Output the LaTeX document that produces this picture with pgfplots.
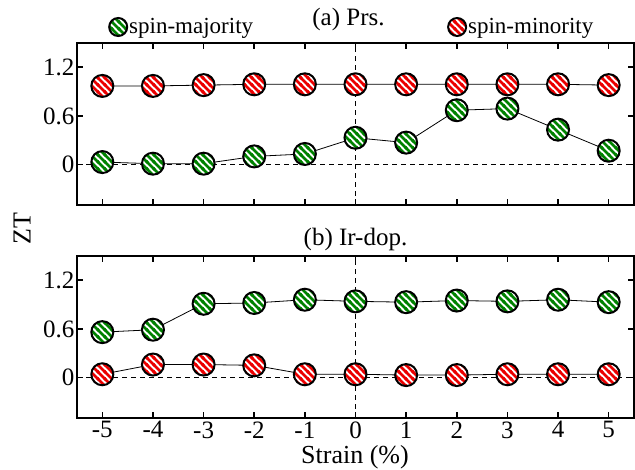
\documentclass[border=0pt]{standalone}
\usepackage{fontspec}
\setmainfont{Liberation Serif}
\usepackage{pgfplots}
\pgfplotsset{compat=1.18}
\usetikzlibrary{patterns}

\definecolor{sgreen}{RGB}{0,130,0}
\definecolor{sred}{RGB}{235,0,0}

\pgfdeclarepatternformonly{mystripes}{\pgfqpoint{-1pt}{-1pt}}{\pgfqpoint{8pt}{8pt}}{\pgfqpoint{7pt}{7pt}}{%
  \pgfsetlinewidth{2.6pt}%
  \pgfpathmoveto{\pgfqpoint{-1pt}{8pt}}\pgfpathlineto{\pgfqpoint{8pt}{-1pt}}%
  \pgfpathmoveto{\pgfqpoint{-1pt}{1pt}}\pgfpathlineto{\pgfqpoint{1pt}{-1pt}}%
  \pgfpathmoveto{\pgfqpoint{6pt}{8pt}}\pgfpathlineto{\pgfqpoint{8pt}{6pt}}%
  \pgfusepath{stroke}}

\pgfdeclareplotmark{gstripe}{%
  \pgfpathcircle{\pgfpointorigin}{\pgfplotmarksize}%
  \pgfsetfillcolor{white}\pgfusepath{fill}%
  \pgfpathcircle{\pgfpointorigin}{\pgfplotmarksize}%
  \pgfsetfillpattern{mystripes}{sgreen}\pgfusepath{fill}%
  \pgfpathcircle{\pgfpointorigin}{\pgfplotmarksize}%
  \pgfsetstrokecolor{black}\pgfsetlinewidth{2pt}\pgfusepath{stroke}%
}
\pgfdeclareplotmark{rstripe}{%
  \pgfpathcircle{\pgfpointorigin}{\pgfplotmarksize}%
  \pgfsetfillcolor{white}\pgfusepath{fill}%
  \pgfpathcircle{\pgfpointorigin}{\pgfplotmarksize}%
  \pgfsetfillpattern{mystripes}{sred}\pgfusepath{fill}%
  \pgfpathcircle{\pgfpointorigin}{\pgfplotmarksize}%
  \pgfsetstrokecolor{black}\pgfsetlinewidth{2pt}\pgfusepath{stroke}%
}

\pgfplotsset{
  zpanel/.style={
    scale only axis, width=557pt, height=162pt,
    xmin=-5.5, xmax=5.5, ymin=-0.5, ymax=1.5,
    xtick={-5,-4,-3,-2,-1,0,1,2,3,4,5},
    ytick={0,0.6,1.2}, yticklabels={0,0.6,1.2},
    tick align=inside, major tick length=6pt,
    axis line style={line width=1.8pt},
    tick style={black, line width=1.6pt},
    /pgf/number format/assume math mode=true,
    tick label style={font=\fontsize{25}{30}\selectfont},
    yticklabel style={xshift=1pt},
  },
  zline/.style={black, line width=0.8pt},
  zdash/.style={black, line width=0.9pt, dash pattern=on 5pt off 4pt, forget plot},
}

\begin{document}
\begin{tikzpicture}
\useasboundingbox (0,0) rectangle (635pt,-470pt);

% ---- top panel (a) ----
\begin{axis}[zpanel, at={(77pt,-205pt)}, anchor=south west,
  xticklabels={},
  title={(a) Prs.},
  title style={font=\fontsize{25}{30}\selectfont, at={(0.5,1)}, anchor=base, yshift=11pt, xshift=-7pt},
  legend columns=2,
  legend style={draw=none, fill=none, at={(0,1)}, anchor=west,
    xshift=28pt, yshift=16pt, font=\fontsize{23}{27}\selectfont,
    nodes={inner sep=1pt},
    /tikz/every even column/.append style={column sep=193pt}},
  legend cell align=left,
]
\addlegendimage{only marks, mark=gstripe, mark size=9pt}
\addlegendentry{spin-majority}
\addlegendimage{only marks, mark=rstripe, mark size=9pt}
\addlegendentry{spin-minority}
\addplot[zdash] coordinates {(-5.5,0) (5.5,0)};
\addplot[zdash] coordinates {(0,-0.5) (0,1.5)};
\addplot[zline, mark=gstripe, mark size=11pt, forget plot] coordinates {
(-5,0.03) (-4,0.01) (-3,0.01) (-2,0.10) (-1,0.13) (0,0.33) (1,0.27) (2,0.67) (3,0.69) (4,0.43) (5,0.17)};
\addplot[zline, mark=rstripe, mark size=11pt, forget plot] coordinates {
(-5,0.97) (-4,0.97) (-3,0.98) (-2,0.99) (-1,0.99) (0,0.99) (1,0.99) (2,0.99) (3,0.99) (4,0.99) (5,0.98)};
\end{axis}

% ---- bottom panel (b) ----
\begin{axis}[zpanel, at={(77pt,-418pt)}, anchor=south west,
  title={(b) Ir-dop.}, title style={font=\fontsize{25}{30}\selectfont, yshift=-4pt},
]
\addplot[zdash] coordinates {(-5.5,0) (5.5,0)};
\addplot[zdash] coordinates {(0,-0.5) (0,1.5)};
\addplot[zline, mark=gstripe, mark size=11pt] coordinates {
(-5,0.56) (-4,0.59) (-3,0.91) (-2,0.92) (-1,0.96) (0,0.94) (1,0.93) (2,0.95) (3,0.94) (4,0.96) (5,0.93)};
\addplot[zline, mark=rstripe, mark size=11pt] coordinates {
(-5,0.04) (-4,0.16) (-3,0.16) (-2,0.15) (-1,0.04) (0,0.04) (1,0.03) (2,0.03) (3,0.04) (4,0.04) (5,0.04)};
\end{axis}

\node[rotate=90, font=\fontsize{26}{30}\selectfont] at (22pt,-229pt) {ZT};
\node[font=\fontsize{26}{30}\selectfont, anchor=base] at (355pt,-463pt) {Strain (\%)};
\end{tikzpicture}
\end{document}
